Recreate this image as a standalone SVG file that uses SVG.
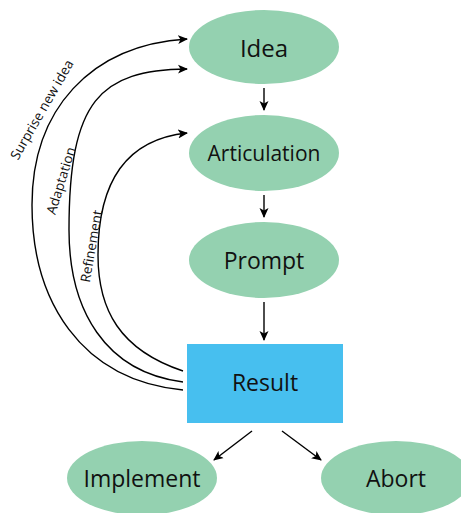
<svg xmlns="http://www.w3.org/2000/svg" width="461" height="513" viewBox="0 0 461 513">
<defs>
<marker id="ah" viewBox="0 0 10 10" refX="9" refY="5" markerWidth="10" markerHeight="10" markerUnits="userSpaceOnUse" orient="auto">
<path d="M0,0.5 L10,5 L0,9.5 L2.5,5 Z" fill="#000"/>
</marker>
<style>
.n{fill:#94D1B0;}
.r{fill:#47BFEF;}
.t{font-family:"Open Sans",sans-serif;font-size:23px;fill:#111;text-anchor:middle;dominant-baseline:central;}
.l{font-family:"Open Sans",sans-serif;font-size:13.5px;fill:#111;text-anchor:middle;}
.c{fill:none;stroke:#000;stroke-width:1.4;}
</style>
</defs>
<rect width="461" height="513" fill="#fff"/>
<g id="idea"><ellipse class="n" cx="264" cy="47" rx="75" ry="37"/><text class="t" x="264" y="47" style="font-size:24px">Idea</text></g>
<g id="articulation"><ellipse class="n" cx="264" cy="153" rx="75" ry="38"/><text class="t" x="264" y="153" style="font-size:21px">Articulation</text></g>
<g id="prompt"><ellipse class="n" cx="264" cy="260" rx="75" ry="38"/><text class="t" x="264" y="260">Prompt</text></g>
<g id="result"><rect class="r" x="187" y="344" width="156" height="79"/><text class="t" x="265" y="382">Result</text></g>
<g id="implement"><ellipse class="n" cx="142" cy="478" rx="75" ry="37"/><text class="t" x="142" y="478">Implement</text></g>
<g id="abort"><ellipse class="n" cx="396" cy="478" rx="75" ry="37"/><text class="t" x="396" y="478">Abort</text></g>
<g id="connectors">
<path class="c" d="M264,88 L264,110" marker-end="url(#ah)"/>
<path class="c" d="M264,195 L264,217" marker-end="url(#ah)"/>
<path class="c" d="M264,302 L264,340" marker-end="url(#ah)"/>
<path class="c" d="M252,431 L214,460" marker-end="url(#ah)"/>
<path class="c" d="M282,431 L321,460" marker-end="url(#ah)"/>
<path class="c" d="M183,390 C80,380 32,300 32,205 C32,110 90,45 187,39" marker-end="url(#ah)"/>
<path class="c" d="M183,382 C105,372 69,310 69,230 C69,100 100,70 187,69" marker-end="url(#ah)"/>
<path class="c" d="M183,371 C120,350 98,310 98,255 C98,190 120,140 187,133" marker-end="url(#ah)"/>
<text class="l" transform="translate(46,112) rotate(-60)">Surprise new idea</text>
<text class="l" transform="translate(65.5,182) rotate(-73)">Adaptation</text>
<text class="l" transform="translate(96,247) rotate(-80)">Refinement</text>
</g>
</svg>
